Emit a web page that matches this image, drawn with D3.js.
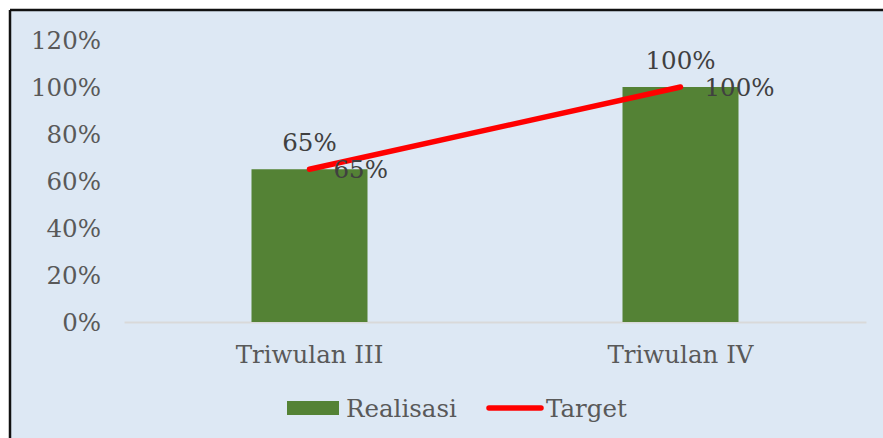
<!DOCTYPE html>
<html><head><meta charset="utf-8">
<script src="https://cdn.jsdelivr.net/npm/d3@7"></script>
<style>html,body{margin:0;padding:0;background:#fff;}svg{display:block;}</style>
</head><body>
<svg id="chart" width="883" height="438"></svg>
<script>
const categories = ["Triwulan III", "Triwulan IV"];
const realisasi = [0.65, 1.00];
const target = [0.65, 1.00];
const yTicks = [0, 0.2, 0.4, 0.6, 0.8, 1.0, 1.2];
const seriesNames = ["Realisasi", "Target"];

const svg = d3.select("#chart");
const W = 883, H = 438;
const font = "'DejaVu Serif', serif";
const fs = 24.5;

// background + border
svg.append("rect").attr("x", 10).attr("y", 10).attr("width", W - 10).attr("height", H - 10)
  .attr("fill", "#dde8f4");
svg.append("line").attr("x1", 10).attr("x2", W).attr("y1", 10).attr("y2", 10)
  .attr("stroke", "#111").attr("stroke-width", 2.5);
svg.append("line").attr("x1", 10).attr("x2", 10).attr("y1", 10).attr("y2", H)
  .attr("stroke", "#111").attr("stroke-width", 2.5);

const x = d3.scaleBand().domain(categories).range([124, 866]).paddingInner(0).paddingOuter(0);
const y = d3.scaleLinear().domain([0, 1.2]).range([322, 40]);
const barW = 116;
const cx = c => x(c) + x.bandwidth() / 2;

// y axis labels
const yAxis = d3.axisLeft(y).tickValues(yTicks).tickFormat(d => Math.round(d * 100) + "%").tickSize(0).tickPadding(0);
const gy = svg.append("g").attr("transform", "translate(101,0)").call(yAxis);
gy.select(".domain").remove();
gy.selectAll("text").attr("font-family", font).attr("font-size", fs).attr("fill", "#595959")
  .attr("dy", "0.35em");

// x axis
const xAxis = d3.axisBottom(x).tickSize(0).tickPadding(0);
const gx = svg.append("g").attr("transform", "translate(0," + y(0) + ")").call(xAxis);
gx.select(".domain").attr("stroke", "#d9d9d9").attr("stroke-width", 2);
gx.selectAll("text").attr("font-family", font).attr("font-size", fs).attr("fill", "#595959")
  .attr("y", 32).attr("dy", "0.35em");

// bars
svg.append("g").selectAll("rect").data(categories).join("rect")
  .attr("x", (d) => cx(d) - barW / 2)
  .attr("width", barW)
  .attr("y", (d, i) => y(realisasi[i]))
  .attr("height", (d, i) => y(0) - y(realisasi[i]))
  .attr("fill", "#548235");

// bar labels
svg.append("g").selectAll("text").data(categories).join("text")
  .attr("x", d => cx(d))
  .attr("y", (d, i) => y(realisasi[i]) - 27)
  .attr("dy", "0.35em")
  .attr("text-anchor", "middle")
  .attr("font-family", font).attr("font-size", fs).attr("fill", "#404040")
  .text((d, i) => Math.round(realisasi[i] * 100) + "%");

// target line
const line = d3.line().x((d, i) => cx(categories[i])).y(d => y(d));
svg.append("path").datum(target).attr("d", line)
  .attr("fill", "none").attr("stroke", "#ff0000").attr("stroke-width", 5.5)
  .attr("stroke-linecap", "round").attr("stroke-linejoin", "round");

// line labels
svg.append("g").selectAll("text").data(categories).join("text")
  .attr("x", d => cx(d) + 24)
  .attr("y", (d, i) => y(target[i]))
  .attr("dy", "0.35em")
  .attr("font-family", font).attr("font-size", fs).attr("fill", "#404040")
  .text((d, i) => Math.round(target[i] * 100) + "%");

// legend
const lg = svg.append("g");
lg.append("rect").attr("x", 287).attr("y", 401).attr("width", 52).attr("height", 14).attr("fill", "#548235");
lg.append("text").attr("x", 346).attr("y", 408).attr("dy", "0.35em")
  .attr("font-family", font).attr("font-size", fs).attr("fill", "#595959").text(seriesNames[0]);
lg.append("line").attr("x1", 489).attr("x2", 541).attr("y1", 408).attr("y2", 408)
  .attr("stroke", "#ff0000").attr("stroke-width", 5.5).attr("stroke-linecap", "round");
lg.append("text").attr("x", 546).attr("y", 408).attr("dy", "0.35em")
  .attr("font-family", font).attr("font-size", fs).attr("fill", "#595959").text(seriesNames[1]);
</script>
</body></html>
